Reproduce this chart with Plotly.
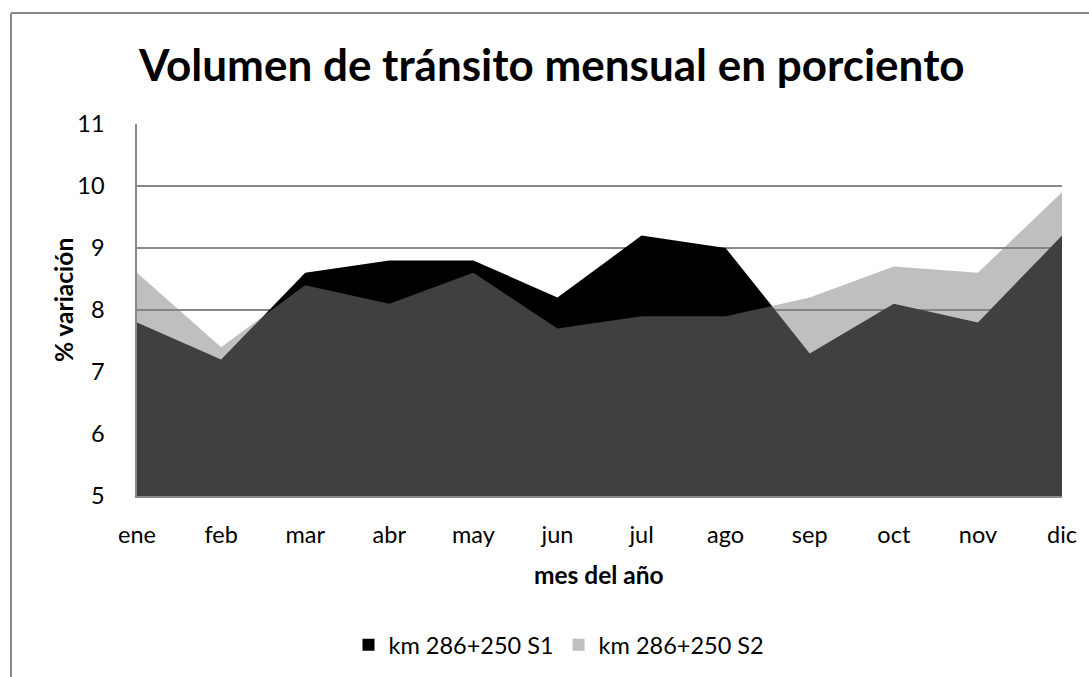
import plotly.graph_objects as go

months = ["ene", "feb", "mar", "abr", "may", "jun", "jul", "ago", "sep", "oct", "nov", "dic"]
s1 = [7.8, 7.2, 8.6, 8.8, 8.8, 8.2, 9.2, 9.0, 7.3, 8.1, 7.8, 9.2]
s2 = [8.6, 7.4, 8.4, 8.1, 8.6, 7.7, 7.9, 7.9, 8.2, 8.7, 8.6, 9.9]
name1 = "km 286+250 S1"
name2 = "km 286+250 S2"
title = "Volumen de tránsito mensual en porciento"
xtitle = "mes del año"
ytitle = "% variación"

FONT = "Lato"
W, H = 1089, 677
L, R, T, B = 137, 27, 124, 181
pw, ph = W - L - R, H - T - B

def px_x(p):
    return (p - L) / pw

def px_y(p):
    return (H - B - p) / ph

fig = go.Figure()
fig.add_trace(go.Scatter(x=months, y=s1, mode="lines", fill="tozeroy",
                         fillcolor="#000000", line=dict(width=0, color="#000000"),
                         showlegend=False, name=name1))
fig.add_trace(go.Scatter(x=months, y=s2, mode="lines", fill="tozeroy",
                         fillcolor="rgba(128,128,128,0.5)", line=dict(width=0, color="rgba(0,0,0,0)"),
                         showlegend=False, name=name2))
# legend entries
fig.add_trace(go.Scatter(x=[None], y=[None], mode="markers", name=name1,
                         marker=dict(symbol="square", size=14, color="#000000")))
fig.add_trace(go.Scatter(x=[None], y=[None], mode="markers", name=name2,
                         marker=dict(symbol="square", size=14, color="#bfbfbf")))

TICK = 23.5
fig.update_layout(
    width=W, height=H,
    margin=dict(l=L, r=R, t=T, b=B, autoexpand=False),
    paper_bgcolor="white", plot_bgcolor="white",
    font=dict(family=FONT, size=TICK, color="#000000"),
    showlegend=True,
    legend=dict(orientation="h", x=px_x(559), y=px_y(645), xanchor="center", yanchor="middle",
                font=dict(size=TICK), itemsizing="constant", traceorder="normal",
                itemwidth=30, bgcolor="rgba(0,0,0,0)"),
    xaxis=dict(type="category", range=[0, 11], showgrid=False, showline=True,
               linecolor="#888888", linewidth=2, ticks="", ticklabelstandoff=17,
               tickfont=dict(size=TICK), zeroline=False, fixedrange=True),
    yaxis=dict(range=[5, 11], dtick=1, showgrid=True, gridcolor="#888888", gridwidth=1.5,
               showline=True, linecolor="#888888", linewidth=1.5, ticks="",
               ticklabelstandoff=26, tickfont=dict(size=TICK), zeroline=False, fixedrange=True),
    annotations=[
        dict(text="<b>" + title + "</b>", x=px_x(551), y=px_y(64), xref="paper", yref="paper",
             xanchor="center", yanchor="middle", showarrow=False, font=dict(size=44, family=FONT)),
        dict(text="<b>" + xtitle + "</b>", x=px_x(599), y=px_y(574), xref="paper", yref="paper",
             xanchor="center", yanchor="middle", showarrow=False, font=dict(size=24.5, family=FONT)),
        dict(text="<b>" + ytitle + "</b>", x=px_x(63), y=px_y(300), xref="paper", yref="paper",
             xanchor="center", yanchor="middle", showarrow=False, textangle=-90,
             font=dict(size=24.5, family=FONT)),
    ],
    shapes=[
        dict(type="line", xref="paper", yref="paper", x0=px_x(11), x1=px_x(11),
             y0=px_y(13), y1=px_y(700), line=dict(color="#888888", width=2)),
        dict(type="line", xref="paper", yref="paper", x0=px_x(11), x1=px_x(1100),
             y0=px_y(13), y1=px_y(13), line=dict(color="#888888", width=2)),
    ],
)

fig.write_html("out.html", config={"displayModeBar": False},
               post_script="document.body.style.margin='0px';document.body.style.overflow='hidden';")
